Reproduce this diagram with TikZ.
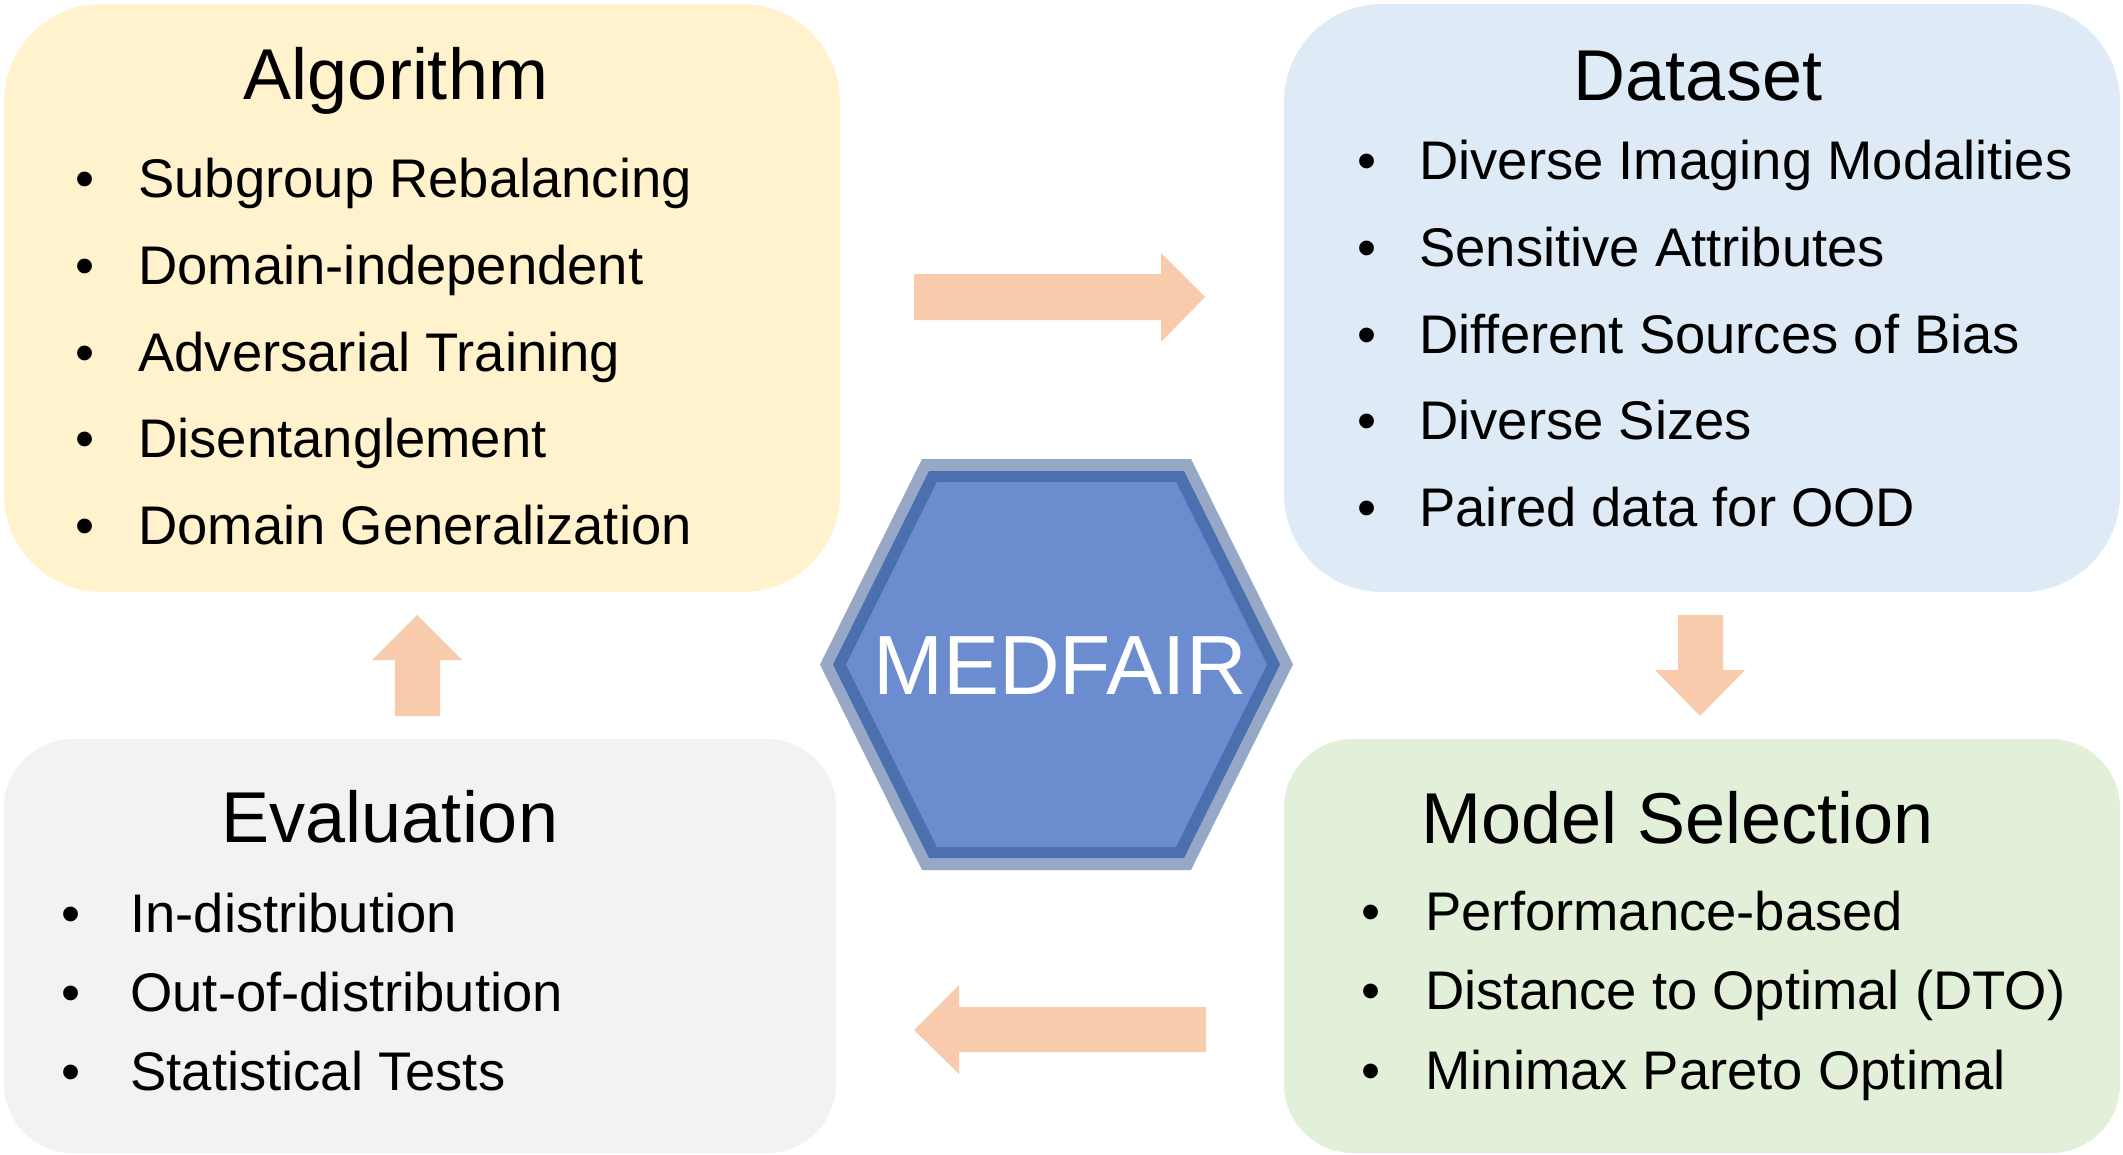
\documentclass[tikz,border=0pt]{standalone}
\usepackage{fontspec}
\setmainfont{Liberation Sans}
\definecolor{algc}{HTML}{FFF2CC}
\definecolor{datac}{HTML}{DEEBF7}
\definecolor{evalc}{HTML}{F2F2F2}
\definecolor{modc}{HTML}{E2F0D9}
\definecolor{arrowc}{HTML}{F8CBAD}
\definecolor{hexout}{HTML}{97A8C6}
\definecolor{hexmid}{HTML}{4B6FAF}
\definecolor{hexin}{HTML}{6B8DD0}
\begin{document}
\begin{tikzpicture}[x=0.5pt,y=-0.5pt,
  titletext/.style={anchor=base, inner sep=0pt, font=\fontsize{36}{40}\selectfont},
  itemtext/.style={anchor=base west, inner sep=0pt, font=\fontsize{27.2}{32}\selectfont},
  bullettext/.style={anchor=base, inner sep=0pt, font=\fontsize{27.2}{32}\selectfont},
  blockarrow/.style={fill=arrowc, draw=none},
  bigbox/.style={rounded corners=49pt},
  smallbox/.style={rounded corners=34.5pt}]
\useasboundingbox (0,0) rectangle (2123,1155);
\fill[white] (0,0) rectangle (2123,1155);
% boxes
\fill[algc, bigbox] (4,4) rectangle (840,592);
\fill[datac, bigbox] (1284,4) rectangle (2120,592);
\fill[evalc, smallbox] (4,739) rectangle (836,1153);
\fill[modc, smallbox] (1284,739) rectangle (2120,1153);
% titles
\node[titletext] (algT) at (396,100) {Algorithm};
\node[titletext] (dataT) at (1698,101) {Dataset};
\node[titletext] (evalT) at (390,842) {Evaluation};
\node[titletext] (modT) at (1678,843) {Model Selection};
% items
\foreach \t [count=\i from 0] in {Subgroup Rebalancing, Domain-independent, Adversarial Training, Disentanglement, Domain Generalization}{
  \node[bullettext] (algB\i) at (85,198+86.5*\i) {•};
  \node[itemtext] (algI\i) at (138,198+86.5*\i) {\t};
}
\foreach \t [count=\i from 0] in {Diverse Imaging Modalities, Sensitive Attributes, Different Sources of Bias, Diverse Sizes, Paired data for OOD}{
  \node[bullettext] (dataB\i) at (1367,180+86.5*\i) {•};
  \node[itemtext] (dataI\i) at (1419,180+86.5*\i) {\t};
}
\foreach \t [count=\i from 0] in {In-distribution, Out-of-distribution, Statistical Tests}{
  \node[bullettext] (evalB\i) at (71,932+79*\i) {•};
  \node[itemtext] (evalI\i) at (130,932+79*\i) {\t};
}
\foreach \t [count=\i from 0] in {Performance-based, Distance to Optimal (DTO), Minimax Pareto Optimal}{
  \node[bullettext] (modB\i) at (1371,930+79.5*\i) {•};
  \node[itemtext] (modI\i) at (1425,930+79.5*\i) {\t};
}
% block arrows
\fill[blockarrow] (914,274) -- (1161,274) -- (1161,253) -- (1205,297) -- (1161,342) -- (1161,320) -- (914,320) -- cycle;
\fill[blockarrow] (1678,615) -- (1723,615) -- (1723,670) -- (1745,670) -- (1700,716) -- (1655,670) -- (1678,670) -- cycle;
\fill[blockarrow] (1206,1007) -- (959,1007) -- (959,985) -- (914,1030) -- (959,1074) -- (959,1052) -- (1206,1052) -- cycle;
\fill[blockarrow] (395,716) -- (395,660) -- (372,660) -- (417,615) -- (462,660) -- (440,660) -- (440,716) -- cycle;
% hexagon
\fill[hexout] (820,664.5) -- (922,459) -- (1191,459) -- (1293,664.5) -- (1191,870) -- (922,870) -- cycle;
\fill[hexmid] (833,664.5) -- (929,471) -- (1184,471) -- (1280,664.5) -- (1184,858) -- (929,858) -- cycle;
\fill[hexin] (846,664.5) -- (937,482) -- (1176,482) -- (1267,664.5) -- (1176,847) -- (937,847) -- cycle;
\node[anchor=base, inner sep=0pt, text=white, font=\fontsize{42}{46}\selectfont] (medfair) at (1060,694) {MEDFAIR};
\end{tikzpicture}
\end{document}
